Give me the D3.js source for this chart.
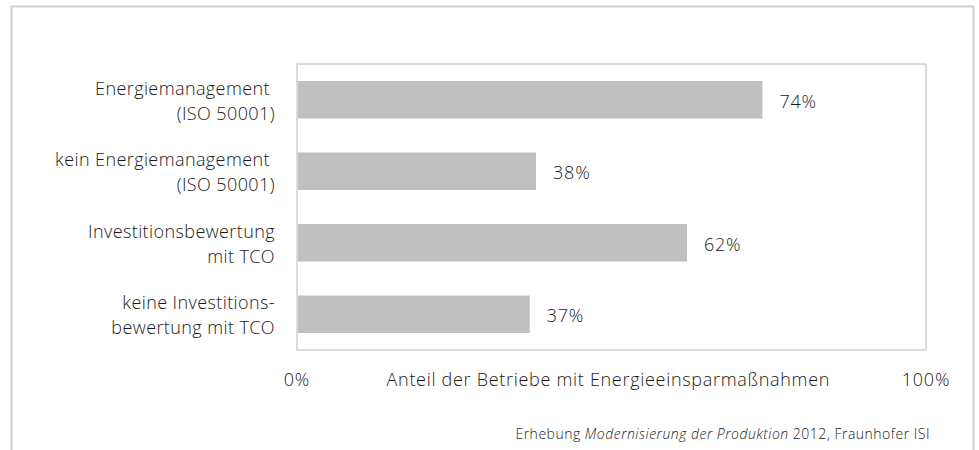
<!DOCTYPE html>
<html lang="de">
<head>
<meta charset="UTF-8">
<title>Anteil der Betriebe mit Energieeinsparmaßnahmen</title>
<script src="https://d3js.org/d3.v7.min.js"></script>
<style>
  body { margin: 0; background: #fff; }
  text { font-family: "Open Sans", "Noto Sans", sans-serif; font-weight: 300; fill: #1a1a1a; }
</style>
</head>
<body>
<svg id="chart"></svg>
<script>
// data
var categories = [
    ["Energiemanagement ", "(ISO 50001)"],
    ["kein Energiemanagement ", "(ISO 50001)"],
    ["Investitionsbewertung", "mit TCO"],
    ["keine Investitions-", "bewertung mit TCO"]
];
var values = [0.74, 0.38, 0.62, 0.37];
var tickLabels = ["0%", "100%"];
var axisTitle = "Anteil der Betriebe mit Energieeinsparmaßnahmen";

var W = 979, H = 450;
var margin = { top: 64, right: 53, bottom: 100, left: 297 },
    width = W - margin.left - margin.right,
    height = H - margin.top - margin.bottom;

var svg = d3.select("#chart").attr("width", W).attr("height", H);

// outer frame
svg.append("rect")
   .attr("x", 11.5).attr("y", 6.5)
   .attr("width", 962).attr("height", 460)
   .attr("fill", "none").attr("stroke", "#d0d0d0").attr("stroke-width", 2);

var g = svg.append("g")
           .attr("transform", "translate(" + margin.left + "," + margin.top + ")");

var x = d3.scaleLinear().domain([0, 1]).range([0, width]);
var y = d3.scaleBand()
          .domain(d3.range(values.length))
          .range([0, height])
          .paddingInner(0.475)
          .paddingOuter(0.2375);

// plot frame
g.append("rect")
 .attr("x", 0).attr("y", 0)
 .attr("width", width).attr("height", height)
 .attr("fill", "none").attr("stroke", "#d0d0d0").attr("stroke-width", 1.5);

g.selectAll(".bar")
 .data(values)
 .enter().append("rect")
 .attr("class", "bar")
 .attr("x", 1)
 .attr("y", function(d, i) { return y(i); })
 .attr("width", function(d) { return x(d) - 1; })
 .attr("height", y.bandwidth())
 .attr("fill", "#c0c0c0");

g.selectAll(".val")
 .data(values)
 .enter().append("text")
 .attr("class", "val")
 .attr("x", function(d) { return x(d) + 17; })
 .attr("y", function(d, i) { return y(i) + y.bandwidth() / 2 + 8; })
 .attr("font-size", "18px")
 .style("letter-spacing", "0.8px")
 .text(function(d) { return Math.round(d * 100) + "%"; });

// category labels
var cat = g.selectAll(".cat")
           .data(categories)
           .enter().append("text")
           .attr("class", "cat")
           .attr("text-anchor", "end")
           .attr("font-size", "18px")
           .style("letter-spacing", "0.4px")
           .attr("transform", function(d, i) {
               return "translate(-22," + (y(i) + y.bandwidth() / 2) + ")";
           });
cat.selectAll("tspan")
   .data(function(d) { return d; })
   .enter().append("tspan")
   .attr("x", 0)
   .attr("y", function(d, j) { return j === 0 ? -5 : 20; })
   .style("white-space", "pre")
   .text(function(d) { return d; });

// x tick labels
g.selectAll(".tick-label")
 .data(tickLabels)
 .enter().append("text")
 .attr("class", "tick-label")
 .attr("x", function(d, i) { return x(i); })
 .attr("y", height + 36)
 .attr("text-anchor", "middle")
 .attr("font-size", "18px")
 .style("letter-spacing", "0.8px")
 .text(function(d) { return d; });

g.append("text")
 .attr("x", x(0.495))
 .attr("y", height + 36)
 .attr("text-anchor", "middle")
 .attr("font-size", "18px")
 .style("letter-spacing", "0.7px")
 .text(axisTitle);

// source note
var note = svg.append("text")
              .attr("x", 930)
              .attr("y", 439)
              .attr("text-anchor", "end")
              .attr("font-size", "14px")
              .style("letter-spacing", "0.5px");
note.append("tspan").text("Erhebung ");
note.append("tspan").attr("font-style", "italic").text("Modernisierung der Produktion");
note.append("tspan").text(" 2012, Fraunhofer ISI");
</script>
</body>
</html>
